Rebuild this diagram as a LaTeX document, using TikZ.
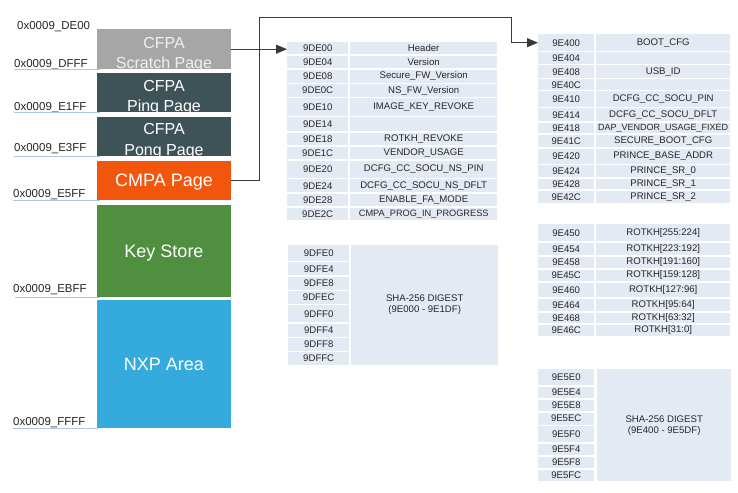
\documentclass[tikz,border=0pt]{standalone}
\usepackage{fontspec}
\setmainfont{Liberation Sans}
\usetikzlibrary{arrows.meta}
\definecolor{cellbg}{HTML}{E4EAF4}
\definecolor{scratchgray}{HTML}{A6A6A6}
\definecolor{slate}{HTML}{3E5357}
\definecolor{cmpaorange}{HTML}{F2560D}
\definecolor{keygreen}{HTML}{4F8F3F}
\definecolor{nxpblue}{HTML}{35AADC}
\definecolor{ulblue}{HTML}{A8CAEA}
\definecolor{connline}{HTML}{3A3A3A}
\tikzset{
  cell/.style={fill=cellbg, inner sep=0pt, anchor=north west, font=\fontsize{9.6}{11}\selectfont, text=black!85},
  membox/.style={draw=none, inner sep=0pt, anchor=north west, minimum width=134pt},
  boxtxt/.style={anchor=base, text=white, inner sep=0pt},
  addrlbl/.style={anchor=base west, inner sep=0pt, font=\fontsize{11.5}{13}\selectfont, text=black!85},
  uline/.style={draw=ulblue, line width=0.8pt},
  conn/.style={draw=connline, line width=0.9pt},
  arr/.style={conn, -{Triangle[length=11pt,width=9pt]}}
}
\newcommand\tabrow[9]{%
  \node[cell, minimum width={(#3-#2)*1pt}, minimum height={(#7-#6)*1pt}] (#1a) at (#2,#6) {#8};
  \node[cell, minimum width={(#5-#4)*1pt}, minimum height={(#7-#6)*1pt}] (#1b) at (#4,#6) {#9};}
\newcommand\mrow[5]{\tabrow{#1}{287}{348}{350}{497}{#2}{#3}{#4}{#5}}
\newcommand\rrow[5]{\tabrow{#1}{538}{594}{596}{730}{#2}{#3}{#4}{#5}}
\newcommand\acell[6]{\node[cell, minimum width={(#3-#2)*1pt}, minimum height={(#5-#4)*1pt}] (#1) at (#2,#4) {#6};}
\begin{document}
\begin{tikzpicture}[x=1pt,y=-1pt]
\useasboundingbox[fill=white] (0,0) rectangle (738,492);

% memory map boxes
\node[membox, fill=scratchgray, minimum height=40pt] (scratch) at (97,29) {};
\node[membox, fill=slate, minimum height=39pt] (ping) at (97,73) {};
\node[membox, fill=slate, minimum height=39pt] (pong) at (97,117) {};
\node[membox, fill=cmpaorange, minimum height=39pt] (cmpa) at (97,161) {};
\node[membox, fill=keygreen, minimum height=92pt] (keys) at (97,205) {};
\node[membox, fill=nxpblue, minimum height=128pt] (nxp) at (97,300) {};

\begin{scope}
\clip (scratch.north west) rectangle (scratch.south east);
\node[boxtxt, text=white!94!black, font=\fontsize{16}{18}\selectfont] (scratchT1) at (164,48.3) {CFPA};
\node[boxtxt, text=white!94!black, font=\fontsize{16}{18}\selectfont] (scratchT2) at (164,68.3) {Scratch Page};
\end{scope}
\begin{scope}
\clip (ping.north west) rectangle (ping.south east);
\node[boxtxt, font=\fontsize{16}{18}\selectfont] (pingT1) at (164,91.7) {CFPA};
\node[boxtxt, font=\fontsize{16}{18}\selectfont] (pingT2) at (164,111.7) {Ping Page};
\end{scope}
\begin{scope}
\clip (pong.north west) rectangle (pong.south east);
\node[boxtxt, font=\fontsize{16}{18}\selectfont] (pongT1) at (164,135) {CFPA};
\node[boxtxt, font=\fontsize{16}{18}\selectfont] (pongT2) at (164,155.5) {Pong Page};
\end{scope}
\node[boxtxt, font=\fontsize{18}{20}\selectfont] (cmpaT) at (164,186.7) {CMPA Page};
\node[boxtxt, font=\fontsize{18}{20}\selectfont] (keysT) at (164,257.3) {Key Store};
\node[boxtxt, font=\fontsize{18}{20}\selectfont] (nxpT) at (164,370.7) {NXP Area};

% address labels
\node[addrlbl] (lDE00) at (17,29.5) {0x0009\_DE00};
\node[addrlbl] (lDFFF) at (14,68) {0x0009\_DFFF};
\node[addrlbl] (lE1FF) at (14,110.5) {0x0009\_E1FF};
\node[addrlbl] (lE3FF) at (14,151.5) {0x0009\_E3FF};
\node[addrlbl] (lE5FF) at (13,197.5) {0x0009\_E5FF};
\node[addrlbl] (lEBFF) at (13,292.5) {0x0009\_EBFF};
\node[addrlbl] (lFFFF) at (13,425) {0x0009\_FFFF};
\draw[uline] (lDFFF.west |- scratch.south) -- ([xshift=3pt]scratch.south west);
\draw[uline] (lE1FF.west |- ping.south) -- ([xshift=3pt]ping.south west);
\draw[uline] (lE3FF.west |- pong.south) -- ([xshift=3pt]pong.south west);
\draw[uline] (lE5FF.west |- cmpa.south) -- ([xshift=3pt]cmpa.south west);
\draw[uline] ([xshift=2pt]lEBFF.west |- keys.south) -- ([xshift=3pt]keys.south west);
\draw[uline] (lFFFF.west |- nxp.south) -- ([xshift=1pt]nxp.south west);

% CFPA table
\mrow{m1}{41.7}{54.3}{9DE00}{Header}
\mrow{m2}{55.7}{68.3}{9DE04}{Version}
\mrow{m3}{69.7}{82.7}{9DE08}{Secure\_FW\_Version}
\mrow{m4}{84}{96.7}{9DE0C}{NS\_FW\_Version}
\mrow{m5}{98.3}{116}{9DE10}{IMAGE\_KEY\_REVOKE}
\mrow{m6}{117.3}{130.7}{9DE14}{}
\mrow{m7}{132.3}{145}{9DE18}{ROTKH\_REVOKE}
\mrow{m8}{146.3}{159}{9DE1C}{VENDOR\_USAGE}
\mrow{m9}{160.7}{177.3}{9DE20}{DCFG\_CC\_SOCU\_NS\_PIN}
\mrow{m10}{179}{192}{9DE24}{DCFG\_CC\_SOCU\_NS\_DFLT}
\mrow{m11}{193.3}{206}{9DE28}{ENABLE\_FA\_MODE}
\mrow{m12}{207.3}{220}{9DE2C}{\fontsize{9.2}{11}\selectfont CMPA\_PROG\_IN\_PROGRESS}

% CFPA digest
\acell{d1}{288}{349}{245}{260.5}{9DFE0}
\acell{d2}{288}{349}{262}{275}{9DFE4}
\acell{d3}{288}{349}{276.5}{289.5}{9DFE8}
\acell{d4}{288}{349}{291}{303.5}{9DFEC}
\acell{d5}{288}{349}{305}{322}{9DFF0}
\acell{d6}{288}{349}{323.5}{336.5}{9DFF4}
\acell{d7}{288}{349}{338}{350.5}{9DFF8}
\acell{d8}{288}{349}{352}{364.5}{9DFFC}
\node[cell, minimum width=147pt, minimum height=119.5pt, align=center] (dg1) at (351,245) {SHA-256 DIGEST\\(9E000 - 9E1DF)};

% CMPA table
\rrow{r1}{34}{51}{9E400}{BOOT\_CFG}
\rrow{r2}{52.3}{63.7}{9E404}{}
\rrow{r3}{65}{78}{9E408}{USB\_ID}
\rrow{r4}{79.3}{90}{9E40C}{}
\rrow{r5}{91.3}{107}{9E410}{DCFG\_CC\_SOCU\_PIN}
\rrow{r6}{108.3}{121}{9E414}{DCFG\_CC\_SOCU\_DFLT}
\rrow{r7}{122.3}{133}{9E418}{\fontsize{9}{11}\selectfont DAP\_VENDOR\_USAGE\_FIXED}
\rrow{r8}{134.3}{147}{9E41C}{SECURE\_BOOT\_CFG}
\rrow{r9}{148.3}{163.5}{9E420}{PRINCE\_BASE\_ADDR}
\rrow{r10}{165}{177}{9E424}{PRINCE\_SR\_0}
\rrow{r11}{178.3}{189}{9E428}{PRINCE\_SR\_1}
\rrow{r12}{190.3}{203}{9E42C}{PRINCE\_SR\_2}

% ROTKH table
\rrow{k1}{224}{241}{9E450}{ROTKH[255:224]}
\rrow{k2}{242.3}{255}{9E454}{ROTKH[223:192]}
\rrow{k3}{256.3}{268}{9E458}{ROTKH[191:160]}
\rrow{k4}{269.3}{281}{9E45C}{ROTKH[159:128]}
\rrow{k5}{282.3}{297}{9E460}{ROTKH[127:96]}
\rrow{k6}{298.3}{311}{9E464}{ROTKH[95:64]}
\rrow{k7}{312.3}{323}{9E468}{ROTKH[63:32]}
\rrow{k8}{324.3}{336}{9E46C}{ROTKH[31:0]}

% CMPA digest
\acell{e1}{538}{594}{369}{385}{9E5E0}
\acell{e2}{538}{594}{386.5}{398}{9E5E4}
\acell{e3}{538}{594}{399.3}{411}{9E5E8}
\acell{e4}{538}{594}{412.3}{424.5}{9E5EC}
\acell{e5}{538}{594}{426}{442}{9E5F0}
\acell{e6}{538}{594}{443.3}{455}{9E5F4}
\acell{e7}{538}{594}{456.3}{468}{9E5F8}
\acell{e8}{538}{594}{469.3}{481}{9E5FC}
\node[cell, minimum width=134pt, minimum height=112pt, align=center] (dg2) at (597,369) {SHA-256 DIGEST\\(9E400 - 9E5DF)};

% connectors
\coordinate (j1) at (259.5,17.5);
\coordinate (j2) at (511,17.5);
\draw[arr] (scratch.east) -- (scratch.east -| m1a.west);
\draw[arr] (cmpa.east) -| (j1) -- (j2) |- (r1a.west);
\end{tikzpicture}
\end{document}
